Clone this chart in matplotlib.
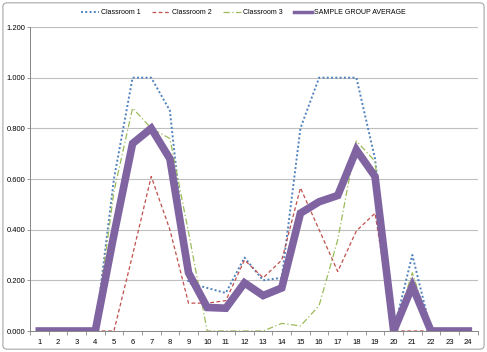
import numpy as np
import matplotlib.pyplot as plt
from matplotlib.patches import FancyBboxPatch
from matplotlib.lines import Line2D
from matplotlib.ticker import FormatStrFormatter, FixedLocator

hours = list(range(1, 25))
classroom1 = [0, 0, 0, 0, 0.60, 1.00, 1.00, 0.87, 0.19, 0.17, 0.15, 0.29,
              0.20, 0.21, 0.80, 1.00, 1.00, 1.00, 0.68, 0, 0.30, 0, 0, 0]
classroom2 = [0, 0, 0, 0, 0, 0.30, 0.61, 0.40, 0.11, 0.11, 0.12, 0.28,
              0.21, 0.28, 0.565, 0.40, 0.235, 0.395, 0.465, 0, 0, 0, 0, 0]
classroom3 = [0, 0, 0, 0, 0.55, 0.88, 0.80, 0.76, 0.39, 0, 0, 0,
              0, 0.03, 0.02, 0.10, 0.36, 0.75, 0.67, 0, 0.23, 0, 0, 0]
average = [0, 0, 0, 0, 0.38, 0.74, 0.80, 0.68, 0.23, 0.093, 0.09, 0.19,
           0.14, 0.17, 0.465, 0.51, 0.535, 0.715, 0.61, 0, 0.177, 0, 0, 0]

plt.rcParams['font.family'] = ['Liberation Sans', 'DejaVu Sans']

fig = plt.figure(figsize=(4.87, 3.52), dpi=100)
ax = fig.add_axes([30/487, 1-331/352, 447.6/487, 304/352])

# rounded outer frame like the excel chart area
frame = FancyBboxPatch((0.006, 0.008), 0.988, 0.984, boxstyle="round,pad=0,rounding_size=0.01",
                       transform=fig.transFigure, fill=False, edgecolor='#a6a6a6', linewidth=0.8)
fig.patches.append(frame)

c1, c2, c3, c4 = '#4F81BD', '#C0504D', '#9BBB59', '#8064A2'
ls1, ls2, ls3 = (0, (1, 1.2)), (0, (3, 2)), (0, (5, 2, 1, 2))

ax.plot(hours, classroom1, color=c1, linestyle=ls1, linewidth=1.4)
ax.plot(hours, classroom2, color=c2, linestyle=ls2, linewidth=0.9)
ax.plot(hours, classroom3, color=c3, linestyle=ls3, linewidth=0.9)
ax.plot(hours, average, color=c4, linewidth=5.5, solid_joinstyle='miter')

ax.set_xlim(0.5, 24.5)
ax.set_ylim(0, 1.2)
ax.set_yticks(np.arange(0, 1.21, 0.2))
ax.yaxis.set_major_formatter(FormatStrFormatter('%.3f'))
ax.grid(axis='y', color='#bfbfbf', linewidth=0.8)
ax.set_axisbelow(True)
ax.set_xticks(hours)
ax.xaxis.set_minor_locator(FixedLocator(np.arange(0.5, 25, 1)))
ax.tick_params(axis='x', which='major', length=0, labelsize=5.5, pad=6)
ax.tick_params(axis='x', which='minor', length=3, color='#868686', width=0.6)
ax.tick_params(axis='y', length=2, color='#868686', width=0.6, labelsize=5.5, pad=1.5)
for s in ['top', 'right']:
    ax.spines[s].set_visible(False)
for s in ['left', 'bottom']:
    ax.spines[s].set_color('#868686')
    ax.spines[s].set_linewidth(0.7)

# legend handles, average drawn thinner like the excel legend key
handles = [Line2D([], [], color=c1, linestyle=ls1, linewidth=1.4),
           Line2D([], [], color=c2, linestyle=ls2, linewidth=0.9),
           Line2D([], [], color=c3, linestyle=ls3, linewidth=0.9),
           Line2D([], [], color=c4, linewidth=2.5)]
labels = ['Classroom 1', 'Classroom 2', 'Classroom 3', 'SAMPLE GROUP AVERAGE']
fig.legend(handles, labels, loc='center', bbox_to_anchor=(0.5, 1-13/352),
           ncol=4, frameon=False, fontsize=5, handlelength=2.6, columnspacing=1.6,
           handletextpad=0.3)

fig.savefig('out.png', dpi=100)
